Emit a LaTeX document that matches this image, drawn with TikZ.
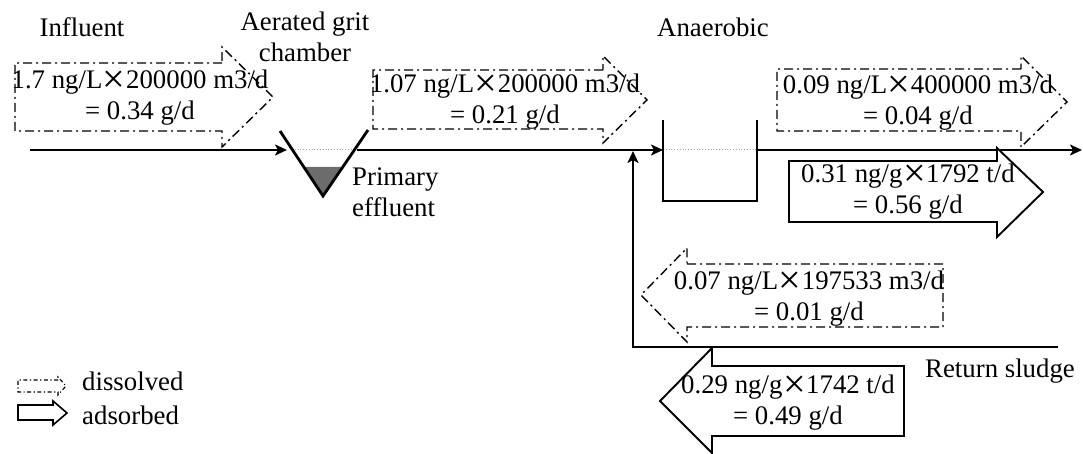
\documentclass[tikz,border=0pt]{standalone}
\usepackage{graphicx}
\usepackage{fontspec}
\setmainfont{Liberation Serif}
\usetikzlibrary{arrows.meta}
\newcommand\mytimes{\hspace{0.02em}\raisebox{-0.15em}{\scalebox{1.5}{×}}\hspace{0.02em}}
\begin{document}
\begin{tikzpicture}[x=1pt,y=-1pt,
  flow/.style={line width=2.8pt},
  flowarrow/.style={flow,-{Stealth[length=12pt,width=11pt,inset=3pt]}},
  dissolved/.style={line width=1.4pt, dash pattern=on 9pt off 4pt on 2pt off 4pt},
  dissolvedsmall/.style={line width=1.1pt, dash pattern=on 4pt off 2.5pt on 1.2pt off 2.5pt},
  adsorbed/.style={line width=1.9pt, fill=white},
  txt/.style={font=\fontsize{26.8}{31}\selectfont, inner sep=0pt, align=center},
  water/.style={line width=0.8pt, gray!70, dotted},
]
\useasboundingbox (0,0) rectangle (1083,454);

% ---- labels
\node[txt] (influent) at (82,27) {Influent};
\node[txt] (grit) at (305,37) {Aerated grit\\chamber};
\node[txt] (anaer) at (713,27) {Anaerobic};
\node[txt, anchor=west, align=left] (primary) at (352,192) {Primary\\effluent};
\node[txt] (retsl) at (1000,371) {Return sludge};

% ---- grit chamber
\coordinate (gL) at (280,131);
\coordinate (gB) at (323,196);
\coordinate (gR) at (368,130);
\fill[gray!85!black] (304,167) -- (343,167) -- (gB) -- cycle;
\draw[water] (292,149) -- (355,149);
\draw[flow] (gL) -- (gB) -- (gR);

% ---- anaerobic tank
\coordinate (aTL) at (663,120);
\coordinate (aBL) at (663,201);
\coordinate (aBR) at (757,201);
\coordinate (aTR) at (757,120);
\draw[water] (663,149) -- (757,149);
\draw[flow] (aTL) -- (aBL) -- (aBR) -- (aTR);

% ---- main flow line
\coordinate (m0) at (30,150);
\coordinate (m1) at (287,150);
\coordinate (m2) at (357,150);
\coordinate (m3) at (663,150);
\coordinate (m4) at (757,150);
\coordinate (m5) at (1082,150);
\draw[flowarrow] (m0) -- (m1);
\draw[flowarrow] (m2) -- (m3);
\draw[flowarrow] (m4) -- (m5);

% ---- return sludge line
\coordinate (r0) at (1058,347);
\coordinate (r1) at (633,347);
\coordinate (r2) at (633,151);
\draw[flowarrow] (r0) -- (r1) -- (r2);

% ---- dissolved arrows
\draw[dissolved] (222,63) -- (15,63) -- (15,131) -- (222,131) -- (222,147) -- (273,97) -- (222,47) -- cycle;
\draw[dissolved] (603,70) -- (373,70) -- (373,129) -- (603,129) -- (603,143) -- (647,100) -- (603,56) -- cycle;
\draw[dissolved] (1021,69) -- (777,69) -- (777,131) -- (1021,131) -- (1021,147) -- (1067,102) -- (1021,56) -- cycle;
\draw[dissolved] (687,264) -- (943,264) -- (943,327) -- (687,327) -- (687,342) -- (641,295) -- (687,248) -- cycle;

% ---- adsorbed arrows
\draw[adsorbed] (997,161) -- (789,161) -- (789,222) -- (997,222) -- (997,237) -- (1043,192) -- (997,148) -- cycle;
\draw[adsorbed] (712,366) -- (904,366) -- (904,436) -- (712,436) -- (712,453) -- (660,401) -- (712,348) -- cycle;

% ---- values
\node[txt] (v1) at (140,98) {1.7 ng/L\mytimes200000 m3/d\\= 0.34 g/d};
\node[txt] (v2) at (505,102) {1.07 ng/L\mytimes200000 m3/d\\= 0.21 g/d};
\node[txt] (v3) at (918,103) {0.09 ng/L\mytimes400000 m3/d\\= 0.04 g/d};
\node[txt] (v4) at (908,192) {0.31 ng/g\mytimes1792 t/d\\= 0.56 g/d};
\node[txt] (v5) at (809,299) {0.07 ng/L\mytimes197533 m3/d\\= 0.01 g/d};
\node[txt] (v6) at (788,403) {0.29 ng/g\mytimes1742 t/d\\= 0.49 g/d};

% ---- legend
\draw[dissolvedsmall] (58,380) -- (18,380) -- (18,392) -- (58,392) -- (58,395) -- (66,386) -- (58,377) -- cycle;
\draw[line width=1.6pt] (53,405) -- (18,405) -- (18,420) -- (53,420) -- (53,425) -- (67,413) -- (53,401) -- cycle;
\node[txt, anchor=west] (ldis) at (82,381) {dissolved};
\node[txt, anchor=west] (lads) at (82,415) {adsorbed};
\end{tikzpicture}
\end{document}
